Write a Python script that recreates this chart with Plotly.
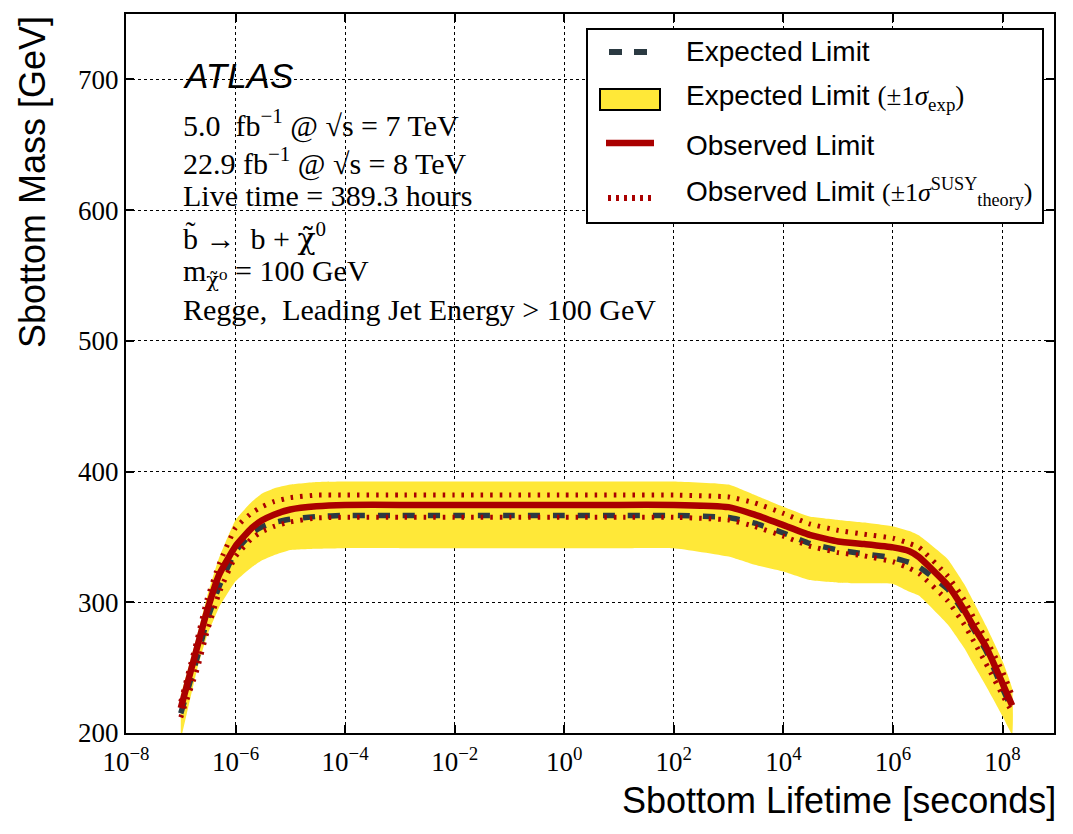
import plotly.graph_objects as go

# ---- data ----
lifetime = [1e-7, 2e-7, 3e-7, 5e-7, 1e-6, 2e-6, 3e-6, 5e-6, 1e-5, 3e-5, 1e-4,
            1e-3, 1e-2, 1e-1, 1, 10, 100,
            1e3, 3e3, 1e4, 3e4, 1e5, 3e5, 1e6, 2e6, 3e6, 1e7, 2e7, 3e7, 5e7, 1e8, 1.5e8]
observed = [219, 266, 293, 321, 343, 357, 362.5, 367, 371, 373.5, 374.5,
            374.5, 374.5, 374.5, 374.5, 374.5, 374.5,
            372.8, 367, 359, 351.6, 346.5, 344.5, 342, 339, 334.5, 313, 294, 281, 266, 238, 221]
expected = [215, 258, 286, 312, 339, 353, 357.5, 361, 363.5, 365.6, 366.4,
            366.4, 366.4, 366.4, 366.4, 366.4, 366.4,
            364.9, 360.5, 353, 345, 340, 337, 334, 330.5, 327, 310, 292, 279, 263, 234, 218]
exp_up = [229, 275, 304, 334, 363, 377, 383, 387, 390, 392, 392.4,
          392.4, 392.4, 392.4, 392.4, 392.4, 392.4,
          390, 382, 373, 365.6, 363, 361, 358, 354.5, 351, 333, 314, 300, 282, 255, 234]
exp_dn = [195, 249, 274, 296, 316, 327, 332, 336, 340, 341, 341.4,
          341.4, 341.4, 341.4, 341.4, 341.4, 341.4,
          335, 328.7, 323.5, 317, 315, 314.5, 314, 308, 305, 283, 265, 252, 236, 213, 199]
th_up = [224, 272, 302, 329, 357, 368.5, 373, 377, 380, 382, 382,
         382, 382, 382, 382, 382, 382,
         380.6, 376, 368, 360, 355, 352, 349, 345, 342, 320, 302, 288, 272, 247, 229]
th_dn = [212, 249, 277, 307, 335, 349, 354, 358, 361.5, 364.5, 365,
         365, 365, 365, 365, 365, 365,
         363, 358, 350.6, 343, 338, 335.5, 331, 326, 322, 301, 283, 270, 253, 229, 216]

x_tickvals = [1e-8, 1e-6, 1e-4, 1e-2, 1, 1e2, 1e4, 1e6, 1e8]
x_ticktext = ["10<sup>−8</sup>", "10<sup>−6</sup>", "10<sup>−4</sup>", "10<sup>−2</sup>",
              "10<sup>0</sup>", "10<sup>2</sup>", "10<sup>4</sup>", "10<sup>6</sup>", "10<sup>8</sup>"]
y_tickvals = [200, 300, 400, 500, 600, 700]

CHI = "<span style='font-family:DejaVu Serif'>χ̃</span>"
info_lines = [
    "5.0  fb<sup>−1</sup> @ √s = 7 TeV",
    "22.9 fb<sup>−1</sup> @ √s = 8 TeV",
    "Live time = 389.3 hours",
    "b̃ →  b + " + CHI + "<sup>0</sup>",
    "m<sub><span style='font-family:DejaVu Serif'>χ̃⁰</span></sub> = 100 GeV",
    "Regge,  Leading Jet Energy > 100 GeV",
]
info_y_px = [123, 161, 195, 236, 273, 309]

legend_labels = [
    "Expected Limit",
    "Expected Limit <span style='font-family:Liberation Serif;font-size:27px'>(±1<i>σ</i><sub>exp</sub>)</span>",
    "Observed Limit",
    "Observed Limit <span style='font-family:Liberation Serif;font-size:26px'>(±1<i>σ</i><sup>SUSY</sup><sub>theory</sub>)</span>",
]
legend_y_px = [52, 97, 145, 192]

YELLOW = "#FFE838"
RED = "#AA0000"
DARK = "#2B3A42"
SERIF = "Liberation Serif"
SANS = "Liberation Sans"

# plot-area geometry in pixels
L, R, T, B = 126, 1054, 14, 733
W, H = 1073, 834

fig = go.Figure()

SPL = dict(shape="spline", smoothing=0.4)

fig.add_trace(go.Scatter(
    x=lifetime + lifetime[::-1], y=exp_up + exp_dn[::-1],
    fill="toself", fillcolor=YELLOW, line=dict(width=0, **SPL),
    mode="lines", showlegend=False, hoverinfo="skip"))

fig.add_trace(go.Scatter(
    x=lifetime, y=expected, mode="lines", showlegend=False,
    line=dict(color=DARK, width=5.5, dash="12px,13px", **SPL)))

fig.add_trace(go.Scatter(
    x=lifetime, y=observed, mode="lines", showlegend=False,
    line=dict(color=RED, width=6.5, **SPL)))

for ys in (th_up, th_dn):
    fig.add_trace(go.Scatter(
        x=lifetime, y=ys, mode="lines", showlegend=False,
        line=dict(color=RED, width=5, dash="2.5px,7px", **SPL)))


def px_x(p):
    return (p - L) / (R - L)


def px_y(p):
    return (B - p) / (B - T)


annotations = [
    dict(text="<i>ATLAS</i>", x=px_x(181), y=px_y(75), xref="paper", yref="paper",
         xanchor="left", yanchor="middle", showarrow=False,
         font=dict(family=SANS, size=35, color="black")),
    dict(text="Sbottom Mass [GeV]", x=px_x(32), y=1.0, xref="paper", yref="paper",
         xanchor="center", yanchor="top", textangle=-90, showarrow=False,
         font=dict(family=SANS, size=36, color="black")),
    dict(text="Sbottom Lifetime [seconds]", x=px_x(1058), y=px_y(800), xref="paper", yref="paper",
         xanchor="right", yanchor="middle", showarrow=False,
         font=dict(family=SANS, size=36, color="black")),
]
for t, yp in zip(info_lines, info_y_px):
    annotations.append(dict(text=t, x=px_x(181), y=px_y(yp), xref="paper", yref="paper",
                            xanchor="left", yanchor="middle", showarrow=False,
                            font=dict(family=SERIF, size=30, color="black")))
for t, yp in zip(legend_labels, legend_y_px):
    annotations.append(dict(text=t, x=px_x(684), y=px_y(yp), xref="paper", yref="paper",
                            xanchor="left", yanchor="middle", showarrow=False,
                            font=dict(family=SANS, size=28, color="black")))

# legend frame and symbols (pixel positions converted to paper coords)
shapes = [
    dict(type="rect", xref="paper", yref="paper", layer="above",
         x0=px_x(587), x1=px_x(1043), y0=px_y(223), y1=px_y(29),
         fillcolor="white", line=dict(color="black", width=2)),
    dict(type="line", xref="paper", yref="paper", layer="above",
         x0=px_x(609), x1=px_x(647), y0=px_y(52), y1=px_y(52),
         line=dict(color=DARK, width=6, dash="13px,12px")),
    dict(type="rect", xref="paper", yref="paper", layer="above",
         x0=px_x(600), x1=px_x(660), y0=px_y(110), y1=px_y(89),
         fillcolor=YELLOW, line=dict(color="black", width=2)),
    dict(type="line", xref="paper", yref="paper", layer="above",
         x0=px_x(606), x1=px_x(654), y0=px_y(143), y1=px_y(143),
         line=dict(color=RED, width=6.5)),
    dict(type="line", xref="paper", yref="paper", layer="above",
         x0=px_x(608), x1=px_x(652), y0=px_y(198), y1=px_y(198),
         line=dict(color=RED, width=6, dash="3px,5px")),
]

axis_common = dict(showline=True, linecolor="black", linewidth=2, mirror="ticks",
                   ticks="inside", ticklen=8, tickwidth=1.5, tickcolor="black",
                   showgrid=True, gridcolor="black", gridwidth=1, griddash="dot",
                   zeroline=False, tickfont=dict(family=SERIF, size=27, color="black"))

fig.update_layout(
    width=W, height=H, paper_bgcolor="white", plot_bgcolor="white",
    margin=dict(l=L, r=W - R, t=T, b=H - B),
    xaxis=dict(type="log", range=[-8, 8.94], tickvals=x_tickvals, ticktext=x_ticktext,
               ticklabelstandoff=4, **axis_common),
    yaxis=dict(range=[200, 750], tickvals=y_tickvals, **axis_common),
    annotations=annotations,
    shapes=shapes,
    showlegend=False,
)

fig.write_html("out.html")
